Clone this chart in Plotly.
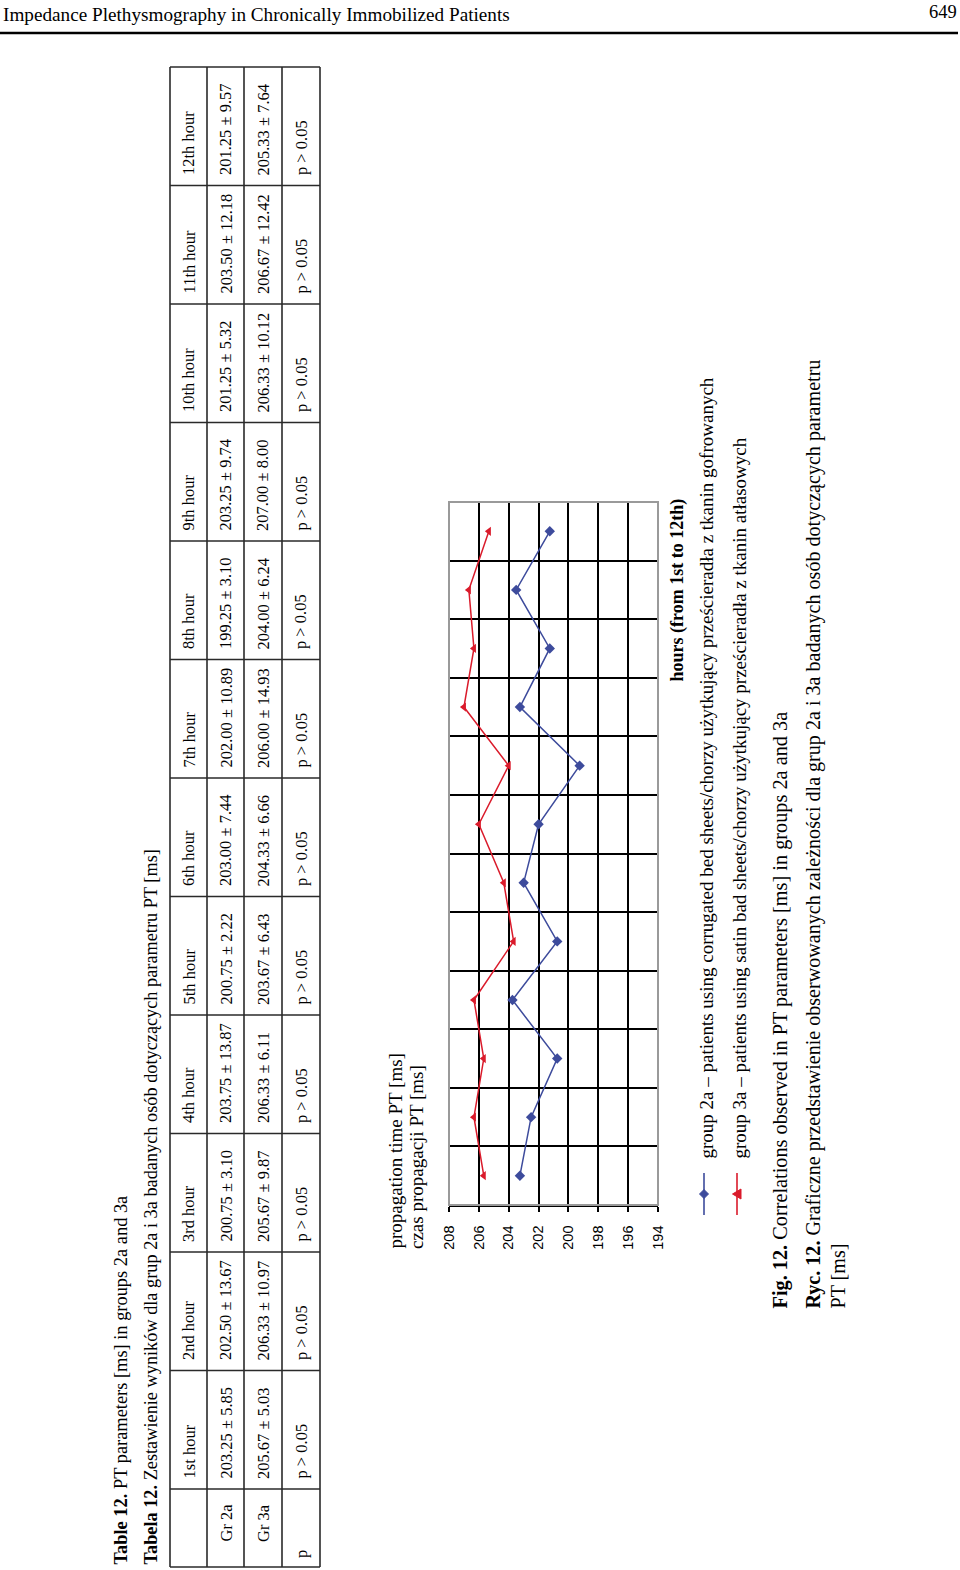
import plotly.graph_objects as go

W, H = 960, 1570

hours = ["1st hour", "2nd hour", "3rd hour", "4th hour", "5th hour", "6th hour",
         "7th hour", "8th hour", "9th hour", "10th hour", "11th hour", "12th hour"]
hour_idx = list(range(1, 13))
gr2a_mean = [203.25, 202.50, 200.75, 203.75, 200.75, 203.00, 202.00, 199.25, 203.25, 201.25, 203.50, 201.25]
gr2a_sd = [5.85, 13.67, 3.10, 13.87, 2.22, 7.44, 10.89, 3.10, 9.74, 5.32, 12.18, 9.57]
gr3a_mean = [205.67, 206.33, 205.67, 206.33, 203.67, 204.33, 206.00, 204.00, 207.00, 206.33, 206.67, 205.33]
gr3a_sd = [5.03, 10.97, 9.87, 6.11, 6.43, 6.66, 14.93, 6.24, 8.00, 10.12, 12.42, 7.64]
p_values = ["p > 0.05"] * 12
row_labels = ["Gr 2a", "Gr 3a", "p"]
pt_ticks = [208, 206, 204, 202, 200, 198, 196, 194]

BLUE = "#3d4b9c"
RED = "#da1b2b"
SERIF = "Liberation Serif"
SANS = "Liberation Sans"


def X(px):
    return px / W


def Y(py):
    return 1 - py / H


fig = go.Figure()

fig.add_trace(go.Scatter(x=gr2a_mean, y=hour_idx, mode="lines+markers",
                         line=dict(color=BLUE, width=1.5),
                         marker=dict(symbol="diamond", size=8, color=BLUE),
                         showlegend=False))
fig.add_trace(go.Scatter(x=gr3a_mean, y=hour_idx, mode="lines+markers",
                         line=dict(color=RED, width=1.5),
                         marker=dict(symbol="triangle-left", size=8, color=RED),
                         showlegend=False))

shapes = []
annotations = []


def rtext(text, xc, ybottom, size, bold=False, font=SERIF, anchor="bottom"):
    annotations.append(dict(
        text=("<b>%s</b>" % text) if bold else text,
        x=X(xc), y=Y(ybottom), xref="paper", yref="paper",
        xanchor="center", yanchor=anchor, textangle=-90, showarrow=False,
        font=dict(family=font, size=size, color="black"), borderpad=0))


# Header
annotations.append(dict(text="Impedance Plethysmography in Chronically Immobilized Patients",
                        x=X(2), y=Y(15), xref="paper", yref="paper", xanchor="left",
                        yanchor="middle", showarrow=False, borderpad=0,
                        font=dict(family=SERIF, size=19.2, color="black")))
annotations.append(dict(text="649", x=X(958), y=Y(12), xref="paper", yref="paper",
                        xanchor="right", yanchor="middle", showarrow=False, borderpad=0,
                        font=dict(family=SERIF, size=18.5, color="black")))
shapes.append(dict(type="line", xref="paper", yref="paper", x0=0, x1=X(958),
                   y0=Y(33), y1=Y(33), line=dict(color="black", width=2.5)))

# Table titles
rtext("<b>Table 12.</b> PT parameters [ms] in groups 2a and 3a", 120, 1566, 18.4)
rtext("<b>Tabela 12.</b> Zestawienie wyników dla grup 2a i 3a badanych osób dotyczących parametru PT [ms]",
      150, 1566, 18.3)

# Table grid
row_x = [170, 207, 244, 282, 320]
col_y = [1567, 1489] + [1489 - 118.5 * k for k in range(1, 13)]
for xx in row_x:
    shapes.append(dict(type="line", xref="paper", yref="paper", x0=X(xx), x1=X(xx),
                       y0=Y(col_y[0]), y1=Y(col_y[-1]), line=dict(color="#2a2a2a", width=1.6)))
for yy in col_y:
    shapes.append(dict(type="line", xref="paper", yref="paper", x0=X(row_x[0]), x1=X(row_x[-1]),
                       y0=Y(yy), y1=Y(yy), line=dict(color="#2a2a2a", width=1.6)))

row_cx = [(row_x[i] + row_x[i + 1]) / 2 for i in range(4)]
# label column
rtext(row_labels[0], row_cx[1], 1543, 16.5)
rtext(row_labels[1], row_cx[2], 1543, 16.5)
rtext(row_labels[2], row_cx[3], 1559, 16.5)
for i in range(12):
    ystart = col_y[i + 1] - 9
    rtext(hours[i], row_cx[0], ystart, 16.5)
    rtext("%.2f ± %.2f" % (gr2a_mean[i], gr2a_sd[i]), row_cx[1], ystart, 16.5)
    rtext("%.2f ± %.2f" % (gr3a_mean[i], gr3a_sd[i]), row_cx[2], ystart, 16.5)
    rtext(p_values[i], row_cx[3], ystart, 16.5)

# Chart titles
rtext("propagation time PT [ms]", 395, 1250, 19)
rtext("czas propagacji PT [ms]", 416, 1250, 19)
rtext("hours (from 1st to 12th)", 677, 683, 18, bold=True)

# chart frame (gray)
shapes.append(dict(type="rect", xref="x domain", yref="y domain", x0=0, x1=1, y0=0, y1=1,
                   line=dict(color="#9a9a9a", width=2), layer="above"))

# Legend
for xc, col, sym in [(704, BLUE, "M -4.5 0 L 0 4.5 L 4.5 0 L 0 -4.5 Z"),
                     (737, RED, "M -4.5 0 L 4 5 L 4 -5 Z")]:
    shapes.append(dict(type="line", xref="paper", yref="paper", x0=X(xc), x1=X(xc),
                       y0=Y(1173), y1=Y(1215), line=dict(color=col, width=1.6)))
    shapes.append(dict(type="path", xref="paper", yref="paper", xsizemode="pixel",
                       ysizemode="pixel", xanchor=X(xc), yanchor=Y(1194), path=sym,
                       fillcolor=col, line=dict(color=col, width=1)))
rtext("group 2a – patients using corrugated bed sheets/chorzy użytkujący prześcieradła z tkanin gofrowanych",
      706, 1160, 19)
rtext("group 3a – patients using satin bad sheets/chorzy użytkujący prześcieradła z tkanin atłasowych",
      739, 1160, 19)

# Captions
rtext("<b>Fig. 12.</b> Correlations observed in PT parameters [ms] in groups 2a and 3a", 780, 1310, 20.3)
rtext("<b>Ryc. 12.</b> Graficzne przedstawienie obserwowanych zależności dla grup 2a i 3a badanych osób dotyczących parametru",
      813, 1310, 20.1)
rtext("PT [ms]", 837, 1310, 20.1)

fig.update_layout(
    width=W, height=H, margin=dict(l=0, r=0, t=0, b=0, pad=0, autoexpand=False),
    paper_bgcolor="white", plot_bgcolor="white",
    shapes=shapes, annotations=annotations, showlegend=False,
    xaxis=dict(domain=[X(449), X(658)], range=[208, 194], tickvals=pt_ticks,
               ticktext=[str(v) for v in pt_ticks], tickangle=-90, automargin=False,
               ticks="outside", ticklen=5, tickwidth=1.5, tickcolor="black",
               showgrid=True, gridcolor="black", gridwidth=2,
               showline=True, linecolor="black", linewidth=1.5, zeroline=False,
               tickfont=dict(family=SANS, size=14.5, color="black"), ticklabelstandoff=8),
    yaxis=dict(domain=[Y(1205), Y(502)], range=[0.5, 12.5], automargin=False,
               tickvals=[k + 0.5 for k in range(1, 12)], showticklabels=False,
               ticks="", showgrid=True, gridcolor="black", gridwidth=2,
               showline=False, zeroline=False),
)

fig.write_html("out.html")
